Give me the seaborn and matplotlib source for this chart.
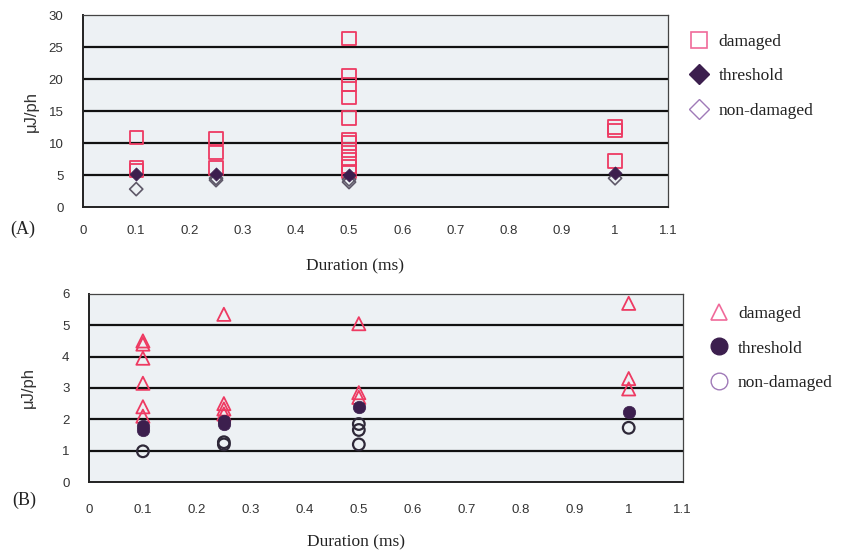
import numpy as np
import pandas as pd
import matplotlib
matplotlib.use("Agg")
import matplotlib.pyplot as plt
import seaborn as sns
from matplotlib.lines import Line2D

# Panel A (μJ/ph vs duration)
a_damaged_x = [0.1, 0.1, 0.1, 0.25, 0.25, 0.25,
               0.5, 0.5, 0.5, 0.5, 0.5, 0.5, 0.5, 0.5, 0.5, 0.5, 0.5,
               1, 1, 1]
a_damaged_y = [10.9, 6.1, 5.7, 10.7, 8.5, 6.1,
               26.3, 20.5, 19.1, 17.1, 13.9, 10.6, 10.0, 8.9, 7.4, 6.3, 5.5,
               12.5, 12.0, 7.2]
a_threshold_x = [0.1, 0.25, 0.5, 1]
a_threshold_y = [5.1, 5.2, 5.0, 5.3]
a_nondamaged_x = [0.1, 0.25, 0.25, 0.5, 0.5, 1]
a_nondamaged_y = [2.8, 4.5, 4.2, 4.3, 3.9, 4.5]

# Panel B
b_damaged_x = [0.1, 0.1, 0.1, 0.1, 0.1, 0.1,
               0.25, 0.25, 0.25, 0.25,
               0.5, 0.5, 0.5,
               1, 1, 1]
b_damaged_y = [4.5, 4.4, 3.95, 3.15, 2.4, 2.1,
               5.35, 2.5, 2.33, 2.17,
               5.05, 2.85, 2.7,
               5.7, 3.3, 2.97]
b_threshold_x = [0.1, 0.1, 0.25, 0.25, 0.5, 1]
b_threshold_y = [1.8, 1.65, 1.95, 1.85, 2.4, 2.24]
b_nondamaged_x = [0.1, 0.25, 0.25, 0.5, 0.5, 0.5, 1]
b_nondamaged_y = [0.98, 1.27, 1.2, 1.85, 1.66, 1.2, 1.73]

x_ticks = [0, 0.1, 0.2, 0.3, 0.4, 0.5, 0.6, 0.7, 0.8, 0.9, 1, 1.1]
x_tick_labels = ["0", "0.1", "0.2", "0.3", "0.4", "0.5", "0.6", "0.7", "0.8", "0.9", "1", "1.1"]

sns.set_style("white")
serif = "Liberation Serif"
sans = "Liberation Sans"

red = "#ee3a62"
dark = "#3c1f4e"
gray = "#5e5868"
legend_red = "#f06a9a"
legend_open = "#a07ab8"
panel_bg = "#edf1f4"

fig = plt.figure(figsize=(8.47, 5.5), dpi=100)
ax_a = fig.add_axes([0.098, 0.6236, 0.691, 0.349])
ax_b = fig.add_axes([0.105, 0.1236, 0.701, 0.342])


def style_axes(ax, ymax, ystep, xpad, label_x, label_y, ylab_x):
    ax.set_facecolor(panel_bg)
    ax.set_xlim(0, 1.1)
    ax.set_ylim(0, ymax)
    yt = np.arange(0, ymax + ystep / 2, ystep)
    ax.set_yticks(yt)
    ax.set_yticklabels([f"{v:g}" for v in yt], fontfamily=sans, fontsize=9.5, color="#333333")
    ax.set_xticks(x_ticks)
    ax.set_xticklabels(x_tick_labels, fontfamily=sans, fontsize=9.5, color="#333333")
    ax.tick_params(axis="x", direction="in", length=4, width=1.2, pad=xpad, colors="#222222",
                   labelcolor="#333333")
    ax.tick_params(axis="y", length=0, pad=14)
    for v in yt[1:-1]:
        ax.axhline(v, color="#111111", lw=1.6, zorder=1)
    for s in ax.spines.values():
        s.set_visible(True)
        s.set_color("#444444")
        s.set_linewidth(0.9)
    for side in ["bottom", "left"]:
        ax.spines[side].set_linewidth(1.4)
        ax.spines[side].set_color("#222222")
    ax.set_xlabel("Duration (ms)", fontfamily=serif, fontsize=12.5, color="#222222")
    ax.xaxis.set_label_coords(label_x, label_y)
    ax.set_ylabel("μJ/ph", fontfamily=sans, fontsize=12, color="#333333")
    ax.yaxis.set_label_coords(ylab_x, 0.5)


# Panel A
sns.scatterplot(x=a_damaged_x, y=a_damaged_y, ax=ax_a, marker="s", s=90,
                facecolor="none", edgecolor=red, linewidth=1.3, zorder=3)
sns.scatterplot(x=a_threshold_x, y=a_threshold_y, ax=ax_a, marker="D", s=45,
                color=dark, edgecolor=dark, linewidth=0.5, zorder=4)
sns.scatterplot(x=a_nondamaged_x, y=a_nondamaged_y, ax=ax_a, marker="D", s=45,
                facecolor="none", edgecolor=gray, linewidth=1.2, zorder=3)
style_axes(ax_a, 30, 5, 13, 0.465, -0.27, -0.075)

# Panel B
sns.scatterplot(x=b_damaged_x, y=b_damaged_y, ax=ax_b, marker="^", s=90,
                facecolor="none", edgecolor=red, linewidth=1.3, zorder=3)
sns.scatterplot(x=b_threshold_x, y=b_threshold_y, ax=ax_b, marker="o", s=80,
                color=dark, edgecolor=dark, linewidth=0.5, zorder=4)
sns.scatterplot(x=b_nondamaged_x, y=b_nondamaged_y, ax=ax_b, marker="o", s=70,
                facecolor="none", edgecolor="#2e2838", linewidth=1.6, zorder=3)
style_axes(ax_b, 6, 1, 16, 0.45, -0.28, -0.09)


def add_legend(handles, x0, y0):
    leg = fig.legend(handles=handles, loc="upper left", bbox_to_anchor=(x0, y0),
                     frameon=False, prop={"family": serif, "size": 12.5},
                     labelspacing=1.05, handletextpad=0.5, handlelength=1.2)
    for t in leg.get_texts():
        t.set_color("#222222")


h_a = [
    Line2D([], [], ls="none", marker="s", ms=12, mfc="none", mec=legend_red, mew=1.2, label="damaged"),
    Line2D([], [], ls="none", marker="D", ms=10, mfc=dark, mec=dark, label="threshold"),
    Line2D([], [], ls="none", marker="D", ms=10, mfc="none", mec=legend_open, mew=1.0, label="non-damaged"),
]
add_legend(h_a, 0.795, 0.967)

h_b = [
    Line2D([], [], ls="none", marker="^", ms=12, mfc="none", mec=legend_red, mew=1.2, label="damaged"),
    Line2D([], [], ls="none", marker="o", ms=12, mfc=dark, mec=dark, label="threshold"),
    Line2D([], [], ls="none", marker="o", ms=12, mfc="none", mec=legend_open, mew=1.0, label="non-damaged"),
]
add_legend(h_b, 0.818, 0.472)

fig.text(0.012, 0.574, "(A)", fontfamily=serif, fontsize=13, color="#222222")
fig.text(0.014, 0.082, "(B)", fontfamily=serif, fontsize=13, color="#222222")

fig.savefig("out.png", dpi=100, facecolor="white")
